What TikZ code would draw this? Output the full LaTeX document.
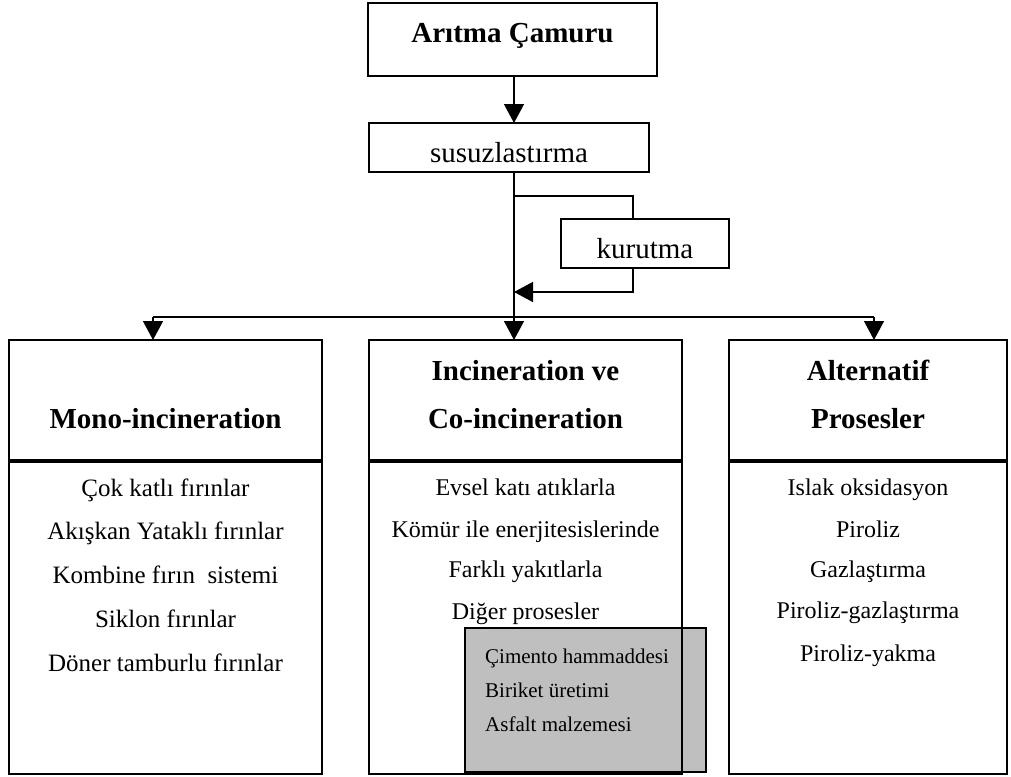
\documentclass[tikz,border=0pt]{standalone}
\usepackage{fontspec}
\setmainfont{Liberation Serif}
\usetikzlibrary{arrows.meta}
\begin{document}
\begin{tikzpicture}[x=1pt,y=-1pt,
  box/.style={draw, line width=1.4pt, inner sep=0pt, outer sep=0pt, rectangle},
  graybox/.style={box, fill=black!25},
  conn/.style={line width=1.4pt},
  arr/.style={conn, -{Triangle[length=19pt,width=20pt]}},
  hdr/.style={font=\fontsize{29}{34}\selectfont\bfseries, anchor=base, inner sep=0pt},
  big/.style={font=\fontsize{29}{34}\selectfont, anchor=base, inner sep=0pt},
  itemL/.style={font=\fontsize{25}{30}\selectfont, anchor=base, inner sep=0pt},
  item/.style={font=\fontsize{24}{29}\selectfont, anchor=base, inner sep=0pt},
  sub/.style={font=\fontsize{21}{25}\selectfont, anchor=base west, inner sep=0pt}]
\useasboundingbox (0,0) rectangle (1011,776);

% boxes
\node[box, minimum width=289pt, minimum height=73pt] (top) at (512.5,39.5) {};
\node[box, minimum width=280pt, minimum height=49pt] (susuz) at (509,147.5) {};
\node[box, minimum width=168pt, minimum height=49pt] (kur) at (645,243.5) {};

\node[box, minimum width=313pt, minimum height=120pt] (lefth) at (165.5,400) {};
\node[box, minimum width=313pt, minimum height=312pt] (leftb) at (165.5,618) {};
\node[box, minimum width=313pt, minimum height=120pt] (midh) at (525.5,400) {};
\node[graybox, minimum width=241pt, minimum height=144pt] (gray) at (585.5,700) {};
\node[box, minimum width=313pt, minimum height=312pt] (midb) at (525.5,618) {};
\node[box, minimum width=278pt, minimum height=120pt] (righth) at (868,400) {};
\node[box, minimum width=278pt, minimum height=312pt] (rightb) at (868,618) {};

% texts
\node[hdr] (t1) at (512.5,43) {Arıtma Çamuru};
\node[big] (t2) at (509,162) {susuzlastırma};
\node[big] (t3) at (645,258) {kurutma};

\node[hdr] (hL) at (165.5,428) {Mono-incineration};
\node[hdr] (hM1) at (525.5,380) {Incineration ve};
\node[hdr] (hM2) at (525.5,428) {Co-incineration};
\node[hdr] (hR1) at (868,380) {Alternatif};
\node[hdr] (hR2) at (868,428) {Prosesler};

\node[itemL] (l1) at (165.5,496) {Çok katlı fırınlar};
\node[itemL] (l2) at (165.5,539) {Akışkan Yataklı fırınlar};
\node[itemL] (l3) at (165.5,583) {Kombine fırın\ \ sistemi};
\node[itemL] (l4) at (165.5,627) {Siklon fırınlar};
\node[itemL] (l5) at (165.5,671) {Döner tamburlu fırınlar};

\node[item] (m1) at (525.5,495) {Evsel katı atıklarla};
\node[item] (m2) at (525.5,537) {Kömür ile enerjitesislerinde};
\node[item] (m3) at (525.5,577) {Farklı yakıtlarla};
\node[item] (m4) at (525.5,619) {Diğer prosesler};

\node[sub] (g1) at (485,663) {Çimento hammaddesi};
\node[sub] (g2) at (485,697) {Biriket üretimi};
\node[sub] (g3) at (485,731) {Asfalt malzemesi};

\node[item] (r1) at (868,495) {Islak oksidasyon};
\node[item] (r2) at (868,537) {Piroliz};
\node[item] (r3) at (868,577) {Gazlaştırma};
\node[item] (r4) at (868,618) {Piroliz-gazlaştırma};
\node[item] (r5) at (868,661) {Piroliz-yakma};

% connectors
\coordinate (sx) at (514,0);
\coordinate (kx) at (633,0);
\coordinate (split) at (514,196);
\coordinate (join) at (514,292);
\coordinate (busL) at (153,317);
\coordinate (busR) at (874,317);

\draw[arr] (top.south -| sx) -- (susuz.north -| sx);
\draw[arr] (susuz.south -| sx) -- (midh.north -| sx);
\draw[conn] (split) -| (kur.north -| kx);
\draw[arr] (kur.south -| kx) |- (join);
\draw[conn] (busL) -- (busR);
\draw[arr] (busL) -- (lefth.north -| busL);
\draw[arr] (busR) -- (righth.north -| busR);
\end{tikzpicture}
\end{document}
